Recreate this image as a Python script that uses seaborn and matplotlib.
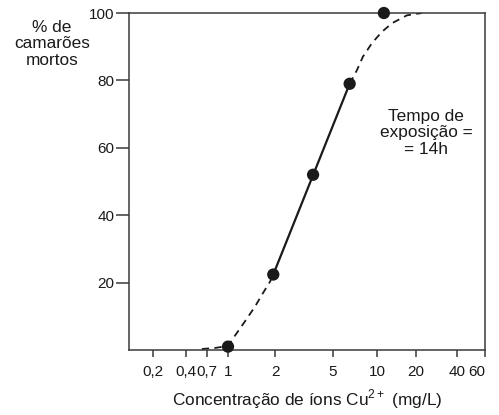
import numpy as np
import matplotlib
matplotlib.use("Agg")
import matplotlib.pyplot as plt
import seaborn as sns

# pontos medidos (concentracao de Cu2+ em mg/L, % de camaroes mortos)
dot_x = [1.0, 1.95, 3.65, 6.5, 11.3]
dot_y = [1.0, 22.4, 52.0, 79.0, 100.0]

# curva: trecho tracejado inferior, trecho reto e trecho tracejado superior
low_x = [0.61, 0.8, 1.0, 1.11, 1.28, 1.49, 1.65, 1.86, 1.95]
low_y = [0.3, 0.6, 1.2, 4.3, 8.4, 12.9, 16.4, 20.3, 22.4]
mid_x = [1.95, 6.5]
mid_y = [22.4, 79.0]
up_x = [6.5, 7.3, 8.0, 9.25, 10.9, 13.1, 17.0, 22.1]
up_y = [79.0, 83.1, 87.0, 91.1, 94.4, 97.0, 99.3, 100.0]

xticks = [0.2, 0.4, 0.7, 1, 2, 5, 10, 20, 40, 60]
xtick_labels = ["0,2", "0,4", "0,7", "1", "2", "5", "10", "20", "40", "60"]
yticks = [20, 40, 60, 80, 100]

# escala do eixo x desenhada a mao no original (aprox. logaritmica)
anchor_v = np.log10([0.1] + xticks)
anchor_p = np.array([129, 153, 186, 207, 228, 275, 333, 377, 416, 457, 485], float)

def fwd(x):
    x = np.clip(np.asarray(x, float), 1e-6, None)
    return np.interp(np.log10(x), anchor_v, anchor_p)

def inv(p):
    return 10 ** np.interp(np.asarray(p, float), anchor_p, anchor_v)

sns.set_style("ticks")
plt.rcParams["font.family"] = ["Liberation Sans", "DejaVu Sans"]
plt.rcParams["font.size"] = 12.4
plt.rcParams["mathtext.fontset"] = "custom"
plt.rcParams["mathtext.rm"] = "Liberation Sans"

fig = plt.figure(figsize=(4.99, 4.15), dpi=100)
ax = fig.add_axes([129 / 499, 1 - 350 / 415, (485 - 129) / 499, (350 - 13) / 415])
ax.set_xscale("function", functions=(fwd, inv))

ink = "#1a1a1a"
sns.lineplot(x=low_x, y=low_y, ax=ax, color=ink, lw=1.3, linestyle=(0, (4, 3)),
             estimator=None, sort=False)
sns.lineplot(x=mid_x, y=mid_y, ax=ax, color=ink, lw=1.6, estimator=None, sort=False)
sns.lineplot(x=up_x, y=up_y, ax=ax, color=ink, lw=1.3, linestyle=(0, (4, 3)),
             estimator=None, sort=False)
sns.scatterplot(x=dot_x, y=dot_y, ax=ax, color=ink, s=78, edgecolor="none",
                zorder=5, clip_on=False)

ax.set_xlim(0.1, 60)
ax.set_ylim(0, 100)
ax.set_xticks(xticks)
ax.set_xticklabels(xtick_labels)
ax.set_xticks([], minor=True)
ax.get_xticklabels()[-1].set_ha("right")
ax.set_yticks(yticks)
ax.set_yticklabels([str(v) for v in yticks])

for s in ax.spines.values():
    s.set_visible(True)
    s.set_color("#3a3a3a")
    s.set_linewidth(1.1)
ax.tick_params(axis="both", direction="out", width=1.1, color="#3a3a3a",
               labelsize=11, labelcolor=ink)
ax.tick_params(axis="x", length=5, pad=6)
ax.tick_params(axis="y", length=9.5, pad=1)

ax.set_xlabel("Concentração de íons Cu$^{2+}$ (mg/L)", fontsize=12.4, color=ink, labelpad=6)
ax.set_ylabel("")

fig.text(52 / 499, 1 - 44 / 415, "% de\ncamarões\nmortos", ha="center", va="center",
         fontsize=12.4, color=ink, linespacing=1.15)
ax.text(0.834, 0.644, "Tempo de\nexposição =\n= 14h", transform=ax.transAxes,
        ha="center", va="center", fontsize=12.4, color=ink, linespacing=1.15)

fig.savefig("out.png", dpi=100)
